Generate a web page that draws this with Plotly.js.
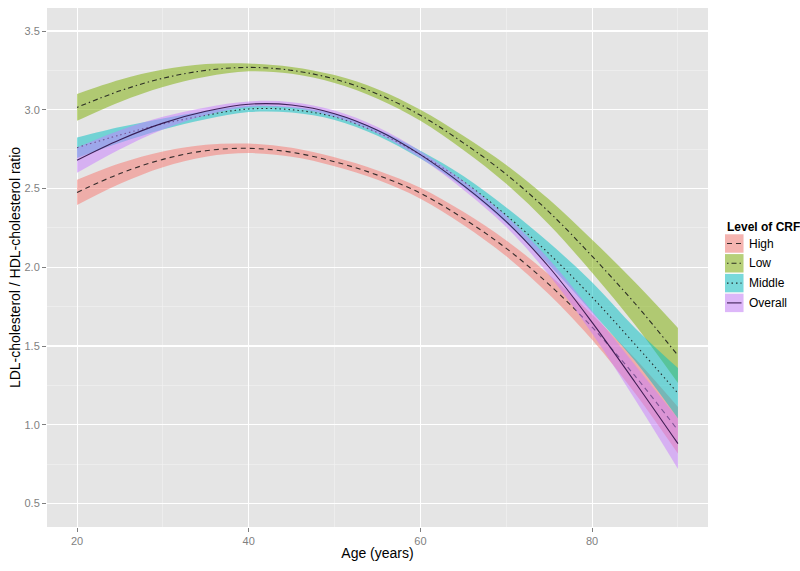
<!DOCTYPE html>
<html>
<head>
<meta charset="utf-8">
<script src="https://cdn.plot.ly/plotly-3.0.1.min.js"></script>
<style>html,body{margin:0;padding:0;background:#fff;}#chart{width:800px;height:571px;}</style>
</head>
<body>
<div id="chart"></div>
<script>
// ---- data ----
const ages = [20,25,30,35,40,45,50,55,60,65,70,75,80,85,90];
const groupNames = ["High","Low","Middle","Overall"];

const highFit   = [2.475,2.595,2.685,2.740,2.755,2.730,2.670,2.585,2.470,2.310,2.120,1.890,1.620,1.310,0.965];
const highUpper = [2.555,2.660,2.735,2.778,2.785,2.758,2.698,2.615,2.505,2.352,2.170,1.953,1.700,1.420,1.113];
const highLower = [2.395,2.530,2.635,2.702,2.725,2.702,2.642,2.555,2.435,2.268,2.070,1.827,1.540,1.200,0.817];

const lowFit    = [3.015,3.120,3.200,3.250,3.269,3.250,3.195,3.100,2.965,2.790,2.590,2.350,2.070,1.770,1.440];
const lowUpper  = [3.100,3.190,3.255,3.290,3.294,3.272,3.220,3.130,3.000,2.835,2.650,2.430,2.175,1.905,1.615];
const lowLower  = [2.930,3.050,3.145,3.210,3.244,3.228,3.170,3.070,2.930,2.745,2.530,2.270,1.965,1.635,1.265];

const midFit    = [2.759,2.840,2.910,2.965,3.005,3.000,2.955,2.855,2.715,2.545,2.330,2.085,1.810,1.510,1.200];
const midUpper  = [2.824,2.890,2.945,2.990,3.025,3.018,2.975,2.875,2.740,2.580,2.380,2.155,1.905,1.615,1.360];
const midLower  = [2.694,2.790,2.875,2.940,2.985,2.982,2.935,2.835,2.690,2.510,2.280,2.015,1.715,1.405,1.040];

const allFit    = [2.680,2.810,2.915,2.990,3.035,3.030,2.975,2.870,2.715,2.520,2.290,2.000,1.650,1.270,0.880];
const allUpper  = [2.760,2.870,2.955,3.015,3.053,3.048,2.995,2.890,2.737,2.548,2.325,2.050,1.720,1.380,1.040];
const allLower  = [2.600,2.750,2.875,2.965,3.017,3.012,2.955,2.850,2.693,2.492,2.255,1.950,1.580,1.160,0.720];

const xTicks = [20,40,60,80];
const yTicks = [0.5,1.0,1.5,2.0,2.5,3.0,3.5];

// ---- styles ----
const colors = {High:"248,118,109", Low:"124,174,0", Middle:"0,191,196", Overall:"199,124,255"};
const dashes = {High:"5px,4px", Low:"1.5px,3px,5px,3px", Middle:"1.5px,3px", Overall:"solid"};
const lineCol = {High:"rgba(20,20,20,0.85)", Low:"rgba(20,20,20,0.85)", Middle:"rgba(20,20,20,0.85)", Overall:"rgba(45,15,70,0.9)"};

const series = [
  {name:"High", fit:highFit, up:highUpper, lo:highLower},
  {name:"Low", fit:lowFit, up:lowUpper, lo:lowLower},
  {name:"Middle", fit:midFit, up:midUpper, lo:midLower},
  {name:"Overall", fit:allFit, up:allUpper, lo:allLower}
];

const traces = [];
series.forEach(s => {
  const fc = "rgba(" + colors[s.name] + ",0.5)";
  traces.push({x:ages, y:s.lo, type:"scatter", mode:"lines", line:{width:0, shape:"spline"}, showlegend:false, hoverinfo:"skip"});
  traces.push({x:ages, y:s.fit, type:"scatter", mode:"lines", fill:"tonexty", fillcolor:fc,
               line:{width:1.1, color:lineCol[s.name], dash:dashes[s.name], shape:"spline"}, name:s.name, showlegend:false});
  traces.push({x:ages, y:s.up, type:"scatter", mode:"lines", fill:"tonexty", fillcolor:fc,
               line:{width:0, shape:"spline"}, showlegend:false, hoverinfo:"skip"});
});

// ---- manual ggplot-style legend ----
const L = 47, R = 708, T = 8, B = 527;
const px = v => (v - L) / (R - L);
const py = v => (B - v) / (B - T);
const shapes = [];
const annotations = [];
annotations.push({xref:"paper", yref:"paper", x:px(725), y:py(227), xanchor:"left", yanchor:"middle",
  text:"<b>Level of CRF</b>", showarrow:false, font:{family:"Liberation Sans, Arial, sans-serif", size:12, color:"#000"}});
groupNames.forEach((g, i) => {
  const cy = 243.5 + i * 19.8;
  shapes.push({type:"rect", xref:"paper", yref:"paper", x0:px(725), x1:px(743.5), y0:py(cy - 9.2), y1:py(cy + 9.2),
    fillcolor:"#F2F2F2", line:{width:0}});
  shapes.push({type:"rect", xref:"paper", yref:"paper", x0:px(725), x1:px(743.5), y0:py(cy - 9.2), y1:py(cy + 9.2),
    fillcolor:"rgba(" + colors[g] + ",0.5)", line:{width:0}});
  shapes.push({type:"line", xref:"paper", yref:"paper", x0:px(727), x1:px(741.5), y0:py(cy), y1:py(cy),
    line:{color:lineCol[g], width:1.1, dash:dashes[g] === "solid" ? "solid" : dashes[g]}});
  annotations.push({xref:"paper", yref:"paper", x:px(747), y:py(cy), xanchor:"left", yanchor:"middle",
    text:g, showarrow:false, font:{family:"Liberation Sans, Arial, sans-serif", size:12, color:"#000"}});
});

const layout = {
  width:800, height:571,
  margin:{l:L, r:800 - R, t:T, b:571 - B},
  paper_bgcolor:"#FFFFFF", plot_bgcolor:"#E5E5E5",
  font:{family:"Liberation Sans, Arial, sans-serif", color:"#000"},
  showlegend:false, hovermode:false,
  xaxis:{range:[16.5,93.5], tickvals:xTicks, ticktext:xTicks.map(String),
    showgrid:true, gridcolor:"#FFFFFF", gridwidth:1.1, zeroline:false, showline:false,
    ticks:"outside", ticklen:4, tickwidth:1, tickcolor:"#7F7F7F",
    tickfont:{size:11, color:"#7F7F7F"},
    minor:{tickvals:[10,30,50,70,90], showgrid:true, gridcolor:"#F2F2F2", gridwidth:0.6, ticks:""},
    title:{text:"Age (years)", font:{size:14, color:"#000"}, standoff:1}},
  yaxis:{range:[0.351,3.646], tickvals:yTicks, ticktext:yTicks.map(v => v.toFixed(1)),
    showgrid:true, gridcolor:"#FFFFFF", gridwidth:1.1, zeroline:false, showline:false,
    ticks:"outside", ticklen:4, tickwidth:1, tickcolor:"#7F7F7F",
    tickfont:{size:11, color:"#7F7F7F"},
    minor:{tickvals:[0.75,1.25,1.75,2.25,2.75,3.25], showgrid:true, gridcolor:"#F2F2F2", gridwidth:0.6, ticks:""},
    title:{text:"LDL-cholesterol / HDL-cholesterol ratio", font:{size:14, color:"#000"}, standoff:0}},
  shapes:shapes, annotations:annotations
};

Plotly.newPlot("chart", traces, layout, {displayModeBar:false, staticPlot:true});
</script>
</body>
</html>
